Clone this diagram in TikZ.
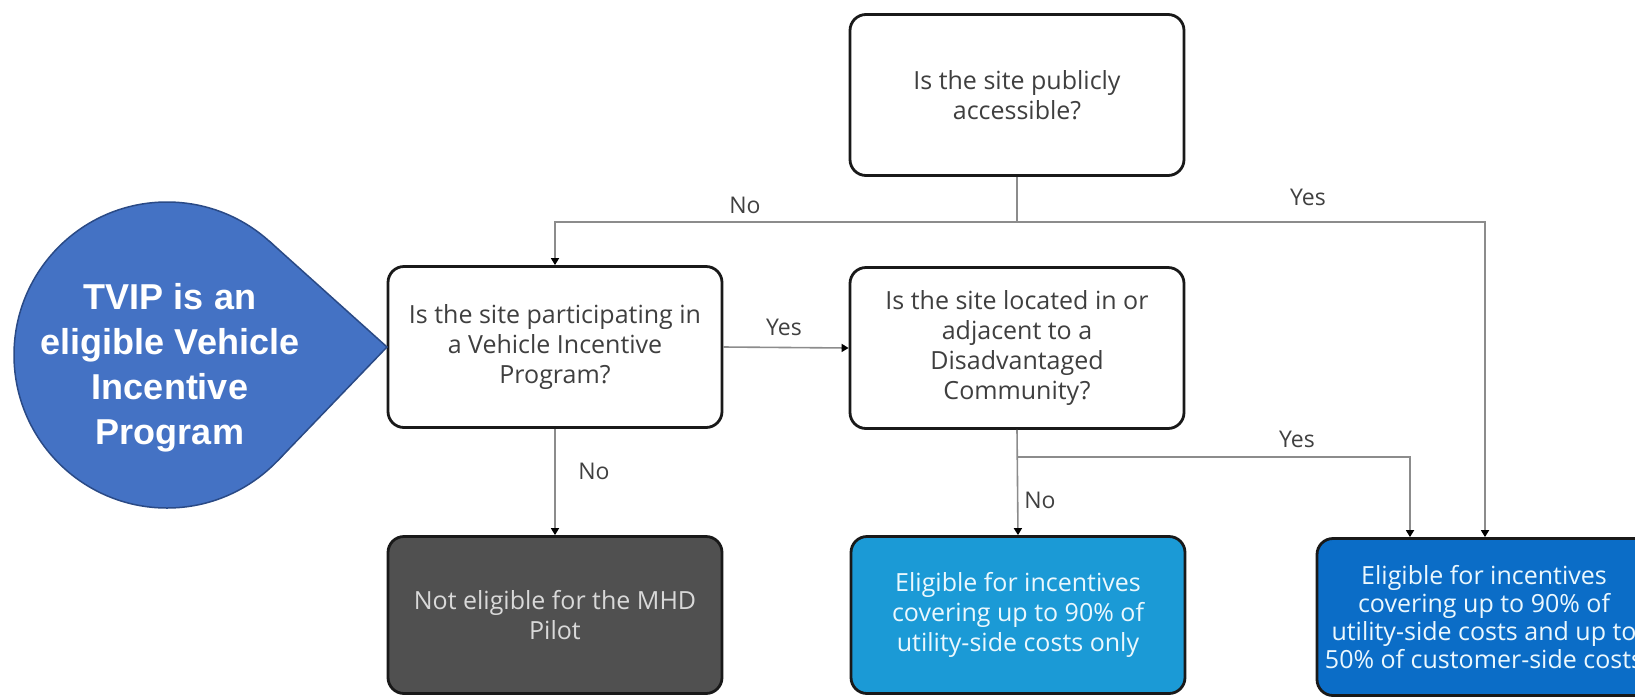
\documentclass[tikz,border=0pt]{standalone}
\usepackage{fontspec}
\setmainfont{Open Sans}
\newfontfamily\calloutfont{Liberation Sans}
\usetikzlibrary{
    arrows.meta,
    positioning
}

\definecolor{boxtext}{HTML}{3F3F3F}
\definecolor{labeltext}{HTML}{404040}
\definecolor{linegray}{HTML}{8C8C8C}
\definecolor{darkfill}{HTML}{505050}
\definecolor{midblue}{HTML}{1B9AD6}
\definecolor{deepblue}{HTML}{0B6DC7}
\definecolor{tvipblue}{HTML}{4472C4}
\definecolor{tvipedge}{HTML}{2A4A86}

\begin{document}
\begin{tikzpicture}[x=1pt, y=-1pt,
    question/.style={draw=black!90, line width=2.8pt, rounded corners=16pt, fill=white,
        minimum width=334pt, minimum height=161pt, align=center, text=boxtext,
        font=\fontsize{25}{30}\selectfont},
    outcome/.style={question, minimum height=157pt},
    flow/.style={draw=linegray, line width=1.6pt},
    arrow/.style={flow, -{Triangle[black, length=7pt, width=8pt]}},
    answer/.style={text=labeltext, font=\fontsize{23}{28}\selectfont}
]
    \useasboundingbox (0,0) rectangle (1635,697);
    \clip (0,0) rectangle (1635,697);

    % questions
    \node[question] (public) at (1017,95) {Is the site publicly\\accessible?};
    \node[question] (participating) at (555,347) {Is the site participating in\\a Vehicle Incentive\\Program?};
    \node[question] (located) at (1017,348) {Is the site located in or\\adjacent to a\\Disadvantaged\\Community?};

    % outcomes
    \node[outcome, fill=darkfill, text=black!15] (noteligible) at (555,615) {Not eligible for the MHD\\Pilot};
    \node[outcome, fill=midblue, text=white!92!cyan] (utilityonly) at (1018,615) {Eligible for incentives\\covering up to 90\% of\\utility-side costs only};
    \node[outcome, fill=deepblue, text=white!92!cyan, font=\fontsize{25}{28}\selectfont] (bothsides) at (1484,617) {Eligible for incentives\\covering up to 90\% of\\utility-side costs and up to\\50\% of customer-side costs};

    \coordinate (pubsplit) at (1017,222);
    \coordinate (locsplit) at (1017,457);

    \draw[flow] (public.south) -- (pubsplit);
    \draw[arrow] (pubsplit) -| (participating.north);
    \draw[arrow] (pubsplit) -| ([xshift=1pt]bothsides.north);
    \draw[arrow] (participating.east) -- (located.west);
    \draw[arrow] (participating.south) -- (noteligible.north);
    \draw[arrow] (located.south) -- (utilityonly.north);
    \draw[arrow] (locsplit) -| ([xshift=-74pt]bothsides.north);

    \node[answer] (nopublic) at (745,205) {No};
    \node[answer] (yespublic) at (1308,197) {Yes};
    \node[answer] (yesvip) at (784,327) {Yes};
    \node[answer] (novip) at (594,471) {No};
    \node[answer] (yesdac) at (1297,439) {Yes};
    \node[answer] (nodac) at (1040,500) {No};

    % callout bubble
    \coordinate (tiptop) at (269.3,241.2);
    \coordinate (tipbottom) at (277.3,461.1);
    \coordinate (tip) at (387,347);
    \draw[fill=tvipblue, draw=tvipedge, line width=1.5pt] (167,355) circle[radius=153];
    \fill[tvipblue] (167,355) -- (tiptop) -- (tip) -- (tipbottom) -- cycle;
    \draw[tvipedge, line width=1.5pt] (tiptop) -- (tip) -- (tipbottom);
    \node[align=center, text=white, font=\calloutfont\bfseries\fontsize{36}{45}\selectfont] (tvip) at (170,368) {TVIP is an\\eligible Vehicle\\Incentive\\Program};
\end{tikzpicture}
\end{document}
